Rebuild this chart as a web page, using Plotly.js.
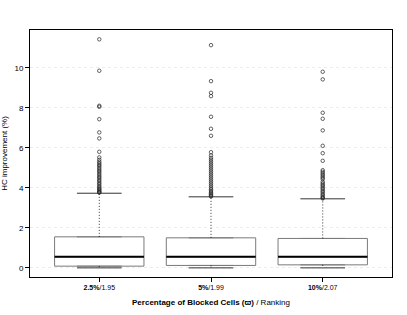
<!DOCTYPE html>
<html>
<head>
<meta charset="utf-8">
<script src="https://cdn.plot.ly/plotly-3.0.1.min.js"></script>
<style>html,body{margin:0;padding:0;background:#fff}#chart{width:407px;height:315px}</style>
</head>
<body>
<div id="chart"></div>
<script>
const positions = [1, 2, 3];
const tickLabels = ['<b>2.5%</b>/1.95', '<b>5%</b>/1.99', '<b>10%</b>/2.07'];
const q1 = [0.085, 0.12, 0.15];
const median = [0.55, 0.55, 0.55];
const q3 = [1.55, 1.5, 1.47];
const lowerWhisker = [0.0, 0.0, 0.0];
const upperWhisker = [3.73, 3.55, 3.45];
const outliers1 = [11.42, 9.85, 8.1, 8.05, 7.43, 6.77, 6.47, 5.8, 5.52, 5.4, 5.3, 5.22, 5.15, 5.08, 5.0, 4.92, 4.85, 4.78, 4.7, 4.62, 4.55, 4.48, 4.4, 4.33, 4.25, 4.18, 4.1, 4.03, 3.97, 3.92, 3.87, 3.82, 3.78, 3.76];
const outliers2 = [11.13, 9.33, 8.75, 8.58, 7.55, 6.95, 6.6, 5.78, 5.62, 5.5, 5.4, 5.3, 5.2, 5.1, 5.0, 4.9, 4.8, 4.7, 4.6, 4.5, 4.4, 4.3, 4.2, 4.1, 4.0, 3.92, 3.85, 3.78, 3.72, 3.66, 3.6, 3.57];
const outliers3 = [9.8, 9.42, 7.75, 7.45, 6.87, 6.1, 5.73, 5.35, 4.88, 4.8, 4.72, 4.65, 4.57, 4.5, 4.43, 4.3, 4.22, 4.15, 4.08, 4.0, 3.93, 3.85, 3.78, 3.7, 3.63, 3.56, 3.5, 3.47];
const yTicks = [0, 2, 4, 6, 8, 10];

const boxWidth = 0.8, capHalf = 0.2;
const outlierSets = [outliers1, outliers2, outliers3];

const traces = [];
traces.push({
  type: 'box', x: positions, q1: q1, median: median, q3: q3,
  lowerfence: q1, upperfence: q3, width: boxWidth,
  line: {color: '#7a7a7a', width: 1}, fillcolor: 'rgba(255,255,255,0)',
  boxpoints: false, hoverinfo: 'skip', showlegend: false
});
function seg(fn) {
  const xs = [], ys = [];
  positions.forEach((p, i) => { const s = fn(p, i); xs.push(s[0], s[1], null); ys.push(s[2], s[3], null); });
  return {xs, ys};
}
const wu = seg((p, i) => [p, p, q3[i], upperWhisker[i]]);
const wl = seg((p, i) => [p, p, q1[i], lowerWhisker[i]]);
traces.push({type: 'scatter', mode: 'lines', x: wu.xs.concat(wl.xs), y: wu.ys.concat(wl.ys),
  line: {color: '#000', width: 0.8, dash: '1px,2px'}, hoverinfo: 'skip', showlegend: false});
const cu = seg((p, i) => [p - capHalf, p + capHalf, upperWhisker[i], upperWhisker[i]]);
const cl = seg((p, i) => [p - capHalf, p + capHalf, lowerWhisker[i], lowerWhisker[i]]);
traces.push({type: 'scatter', mode: 'lines', x: cu.xs.concat(cl.xs), y: cu.ys.concat(cl.ys),
  line: {color: '#333', width: 1}, hoverinfo: 'skip', showlegend: false});
const md = seg((p, i) => [p - boxWidth / 2, p + boxWidth / 2, median[i], median[i]]);
traces.push({type: 'scatter', mode: 'lines', x: md.xs, y: md.ys,
  line: {color: '#000', width: 2}, hoverinfo: 'skip', showlegend: false});
const ox = [], oy = [];
outlierSets.forEach((s, i) => s.forEach(v => { ox.push(positions[i]); oy.push(v); }));
traces.push({type: 'scatter', mode: 'markers', x: ox, y: oy,
  marker: {symbol: 'circle-open', size: 3.5, color: '#222', line: {width: 0.7}},
  hoverinfo: 'skip', showlegend: false});

const layout = {
  width: 407, height: 315,
  margin: {l: 30, r: 15, t: 30, b: 38},
  paper_bgcolor: '#fff', plot_bgcolor: '#fff',
  font: {family: 'Liberation Sans, Arial, sans-serif', size: 7, color: '#000'},
  xaxis: {
    range: [0.38, 3.62], tickvals: positions, ticktext: tickLabels,
    ticks: 'outside', ticklen: 4, tickcolor: '#000', showgrid: false, zeroline: false,
    showline: true, linecolor: '#000', linewidth: 1, mirror: true,
    tickfont: {size: 7},
    title: {text: '<b>Percentage of Blocked Cells (ϖ)</b> / Ranking', font: {size: 8}, standoff: 8}
  },
  yaxis: {
    range: [-0.457, 11.887], tickvals: yTicks,
    ticks: 'outside', ticklen: 4, tickcolor: '#000', zeroline: false,
    showgrid: true, gridcolor: '#ececec', griddash: 'dot', gridwidth: 1,
    showline: true, linecolor: '#000', linewidth: 1, mirror: true,
    tickfont: {size: 8},
    title: {text: 'HC improvement (%)', font: {size: 8}, standoff: 5}
  }
};
Plotly.newPlot('chart', traces, layout, {staticPlot: true, displayModeBar: false});
</script>
</body>
</html>
